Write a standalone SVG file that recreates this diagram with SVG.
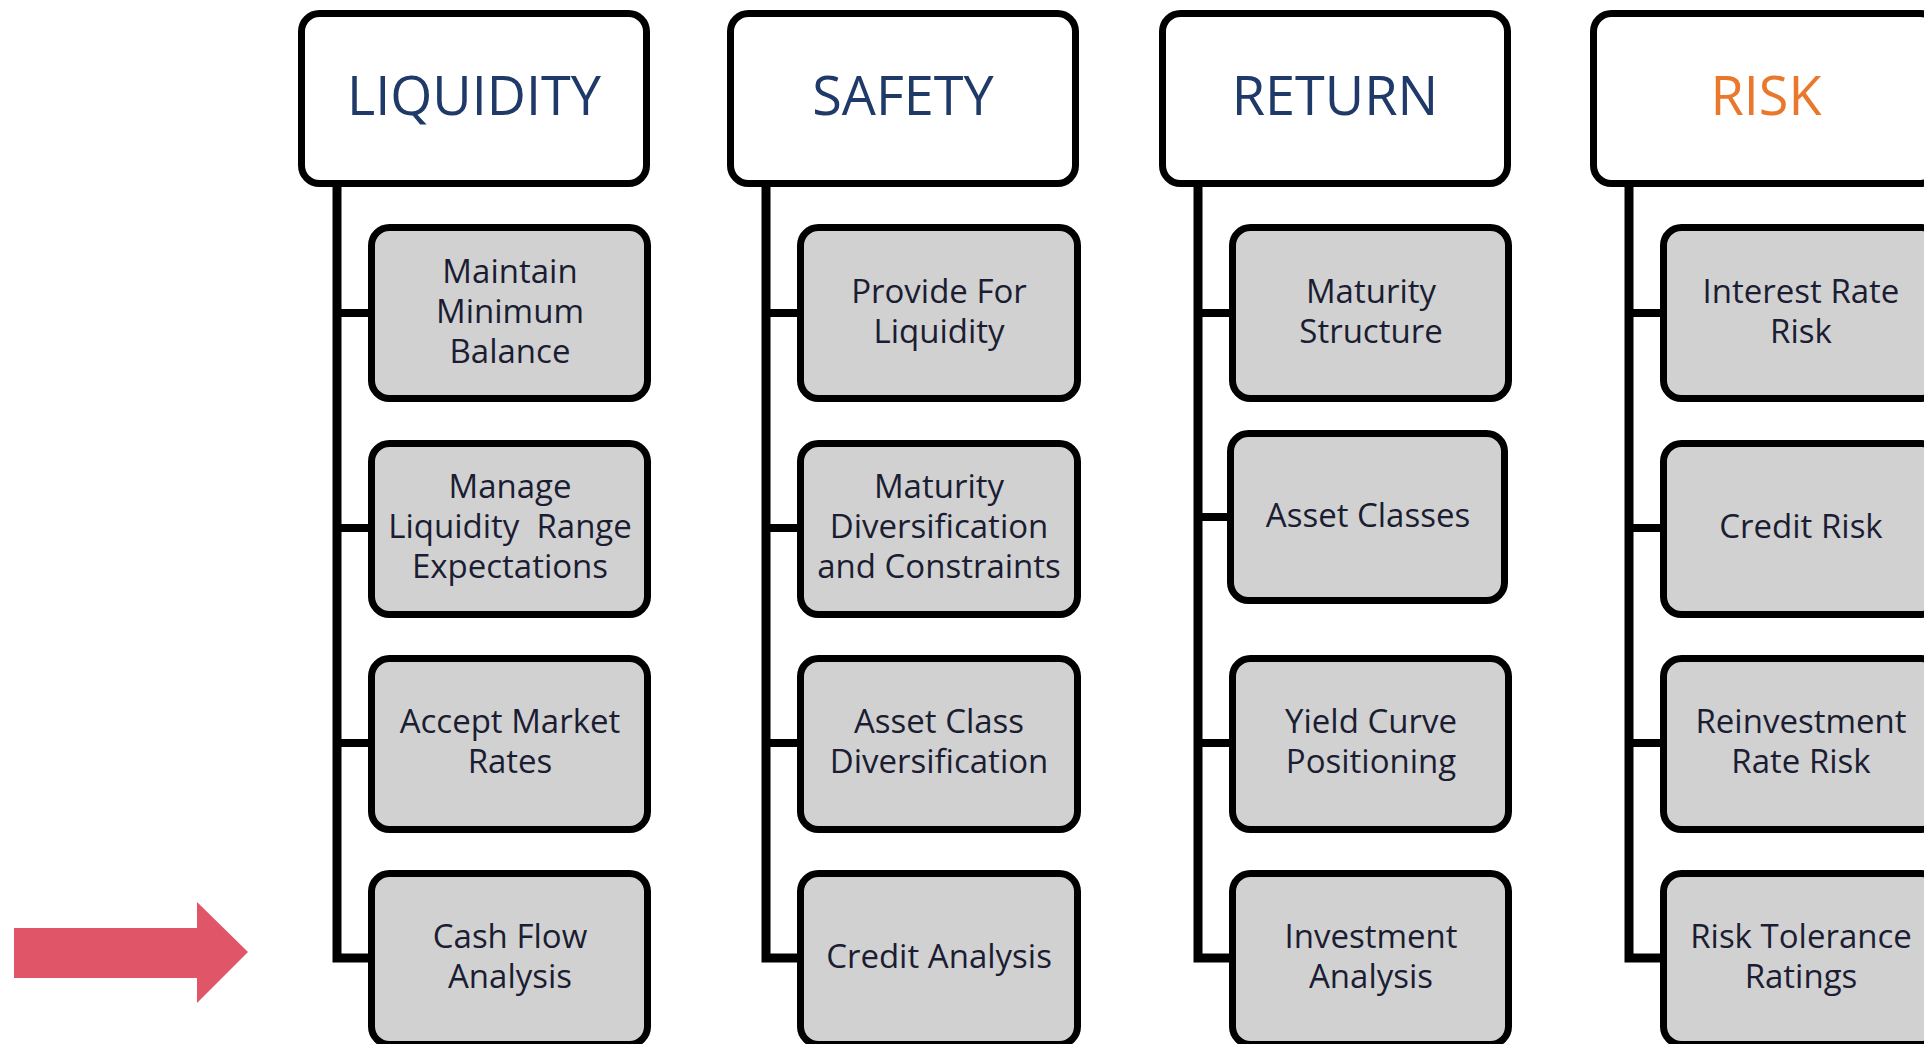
<svg xmlns="http://www.w3.org/2000/svg" width="1924" height="1044" viewBox="0 0 1924 1044">
  <style>
    .hdr { fill: #ffffff; stroke: #000000; stroke-width: 7; }
    .box { fill: #d1d1d1; stroke: #000000; stroke-width: 7; }
    .htxt { font-family: "Open Sans", "Liberation Sans", sans-serif; font-size: 54px; fill: #1f3a68; text-anchor: middle; }
    .htxt.orange { fill: #e9782c; }
    .btxt { font-family: "Open Sans", "Liberation Sans", sans-serif; font-size: 33px; fill: #1b1d33; text-anchor: middle; }
    .trunk { fill: none; stroke: #000000; stroke-width: 9; stroke-linejoin: miter; }
    .tick { stroke: #000000; stroke-width: 8; }
  </style>
  <rect width="1924" height="1044" fill="#ffffff"/>

  <!-- tree connectors: one trunk per column plus a branch to each box -->
  <g id="connectors">
    <path class="trunk" d="M337,186 V958 H372"/>
    <line class="tick" x1="337" y1="313" x2="372" y2="313"/>
    <line class="tick" x1="337" y1="528" x2="372" y2="528"/>
    <line class="tick" x1="337" y1="743" x2="372" y2="743"/>

    <path class="trunk" d="M766,186 V958 H801"/>
    <line class="tick" x1="766" y1="313" x2="801" y2="313"/>
    <line class="tick" x1="766" y1="528" x2="801" y2="528"/>
    <line class="tick" x1="766" y1="743" x2="801" y2="743"/>

    <path class="trunk" d="M1198,186 V958 H1233"/>
    <line class="tick" x1="1198" y1="313" x2="1233" y2="313"/>
    <line class="tick" x1="1198" y1="517" x2="1231" y2="517"/>
    <line class="tick" x1="1198" y1="743" x2="1233" y2="743"/>

    <path class="trunk" d="M1629,186 V958 H1664"/>
    <line class="tick" x1="1629" y1="313" x2="1664" y2="313"/>
    <line class="tick" x1="1629" y1="528" x2="1664" y2="528"/>
    <line class="tick" x1="1629" y1="743" x2="1664" y2="743"/>
  </g>

  <!-- LIQUIDITY column -->
  <g id="liquidity">
    <rect class="hdr" x="301.5" y="13.5" width="345" height="170" rx="18"/>
    <text class="htxt" x="474" y="115">LIQUIDITY</text>
  </g>
  <g id="maintain-minimum-balance">
    <rect class="box" x="371.5" y="227.5" width="276" height="171" rx="18"/>
    <text class="btxt" x="510" y="282.5">Maintain</text>
    <text class="btxt" x="510" y="322.5">Minimum</text>
    <text class="btxt" x="510" y="362.5">Balance</text>
  </g>
  <g id="manage-liquidity-range">
    <rect class="box" x="371.5" y="443.5" width="276" height="171" rx="18"/>
    <text class="btxt" x="510" y="497.5">Manage</text>
    <text class="btxt" x="510" y="537.5" xml:space="preserve">Liquidity  Range</text>
    <text class="btxt" x="510" y="577.5">Expectations</text>
  </g>
  <g id="accept-market-rates">
    <rect class="box" x="371.5" y="658.5" width="276" height="171" rx="18"/>
    <text class="btxt" x="510" y="732.5">Accept Market</text>
    <text class="btxt" x="510" y="772.5">Rates</text>
  </g>
  <g id="cash-flow-analysis">
    <rect class="box" x="371.5" y="873.5" width="276" height="171" rx="18"/>
    <text class="btxt" x="510" y="947.5">Cash Flow</text>
    <text class="btxt" x="510" y="987.5">Analysis</text>
  </g>

  <!-- SAFETY column -->
  <g id="safety">
    <rect class="hdr" x="730.5" y="13.5" width="345" height="170" rx="18"/>
    <text class="htxt" x="903" y="115">SAFETY</text>
  </g>
  <g id="provide-for-liquidity">
    <rect class="box" x="800.5" y="227.5" width="277" height="171" rx="18"/>
    <text class="btxt" x="939" y="302.5">Provide For</text>
    <text class="btxt" x="939" y="342.5">Liquidity</text>
  </g>
  <g id="maturity-diversification">
    <rect class="box" x="800.5" y="443.5" width="277" height="171" rx="18"/>
    <text class="btxt" x="939" y="497.5">Maturity</text>
    <text class="btxt" x="939" y="537.5">Diversification</text>
    <text class="btxt" x="939" y="577.5">and Constraints</text>
  </g>
  <g id="asset-class-diversification">
    <rect class="box" x="800.5" y="658.5" width="277" height="171" rx="18"/>
    <text class="btxt" x="939" y="732.5">Asset Class</text>
    <text class="btxt" x="939" y="772.5">Diversification</text>
  </g>
  <g id="credit-analysis">
    <rect class="box" x="800.5" y="873.5" width="277" height="171" rx="18"/>
    <text class="btxt" x="939" y="967.5">Credit Analysis</text>
  </g>

  <!-- RETURN column -->
  <g id="return">
    <rect class="hdr" x="1162.5" y="13.5" width="345" height="170" rx="18"/>
    <text class="htxt" x="1335" y="115">RETURN</text>
  </g>
  <g id="maturity-structure">
    <rect class="box" x="1232.5" y="227.5" width="276" height="171" rx="18"/>
    <text class="btxt" x="1371" y="302.5">Maturity</text>
    <text class="btxt" x="1371" y="342.5">Structure</text>
  </g>
  <g id="asset-classes">
    <rect class="box" x="1230.5" y="433.5" width="274" height="167" rx="18"/>
    <text class="btxt" x="1368" y="526.5">Asset Classes</text>
  </g>
  <g id="yield-curve-positioning">
    <rect class="box" x="1232.5" y="658.5" width="276" height="171" rx="18"/>
    <text class="btxt" x="1371" y="732.5">Yield Curve</text>
    <text class="btxt" x="1371" y="772.5">Positioning</text>
  </g>
  <g id="investment-analysis">
    <rect class="box" x="1232.5" y="873.5" width="276" height="171" rx="18"/>
    <text class="btxt" x="1371" y="947.5">Investment</text>
    <text class="btxt" x="1371" y="987.5">Analysis</text>
  </g>

  <!-- RISK column -->
  <g id="risk">
    <rect class="hdr" x="1593.5" y="13.5" width="345" height="170" rx="18"/>
    <text class="htxt orange" x="1766" y="115">RISK</text>
  </g>
  <g id="interest-rate-risk">
    <rect class="box" x="1663.5" y="227.5" width="276" height="171" rx="18"/>
    <text class="btxt" x="1801" y="302.5">Interest Rate</text>
    <text class="btxt" x="1801" y="342.5">Risk</text>
  </g>
  <g id="credit-risk">
    <rect class="box" x="1663.5" y="443.5" width="276" height="171" rx="18"/>
    <text class="btxt" x="1801" y="537.5">Credit Risk</text>
  </g>
  <g id="reinvestment-rate-risk">
    <rect class="box" x="1663.5" y="658.5" width="276" height="171" rx="18"/>
    <text class="btxt" x="1801" y="732.5">Reinvestment</text>
    <text class="btxt" x="1801" y="772.5">Rate Risk</text>
  </g>
  <g id="risk-tolerance-ratings">
    <rect class="box" x="1663.5" y="873.5" width="276" height="171" rx="18"/>
    <text class="btxt" x="1801" y="947.5">Risk Tolerance</text>
    <text class="btxt" x="1801" y="987.5">Ratings</text>
  </g>

  <!-- pointer arrow -->
  <g id="pointer">
    <polygon points="14,928 197,928 197,902 248,952 197,1003 197,978 14,978" fill="#e05567"/>
  </g>
</svg>
